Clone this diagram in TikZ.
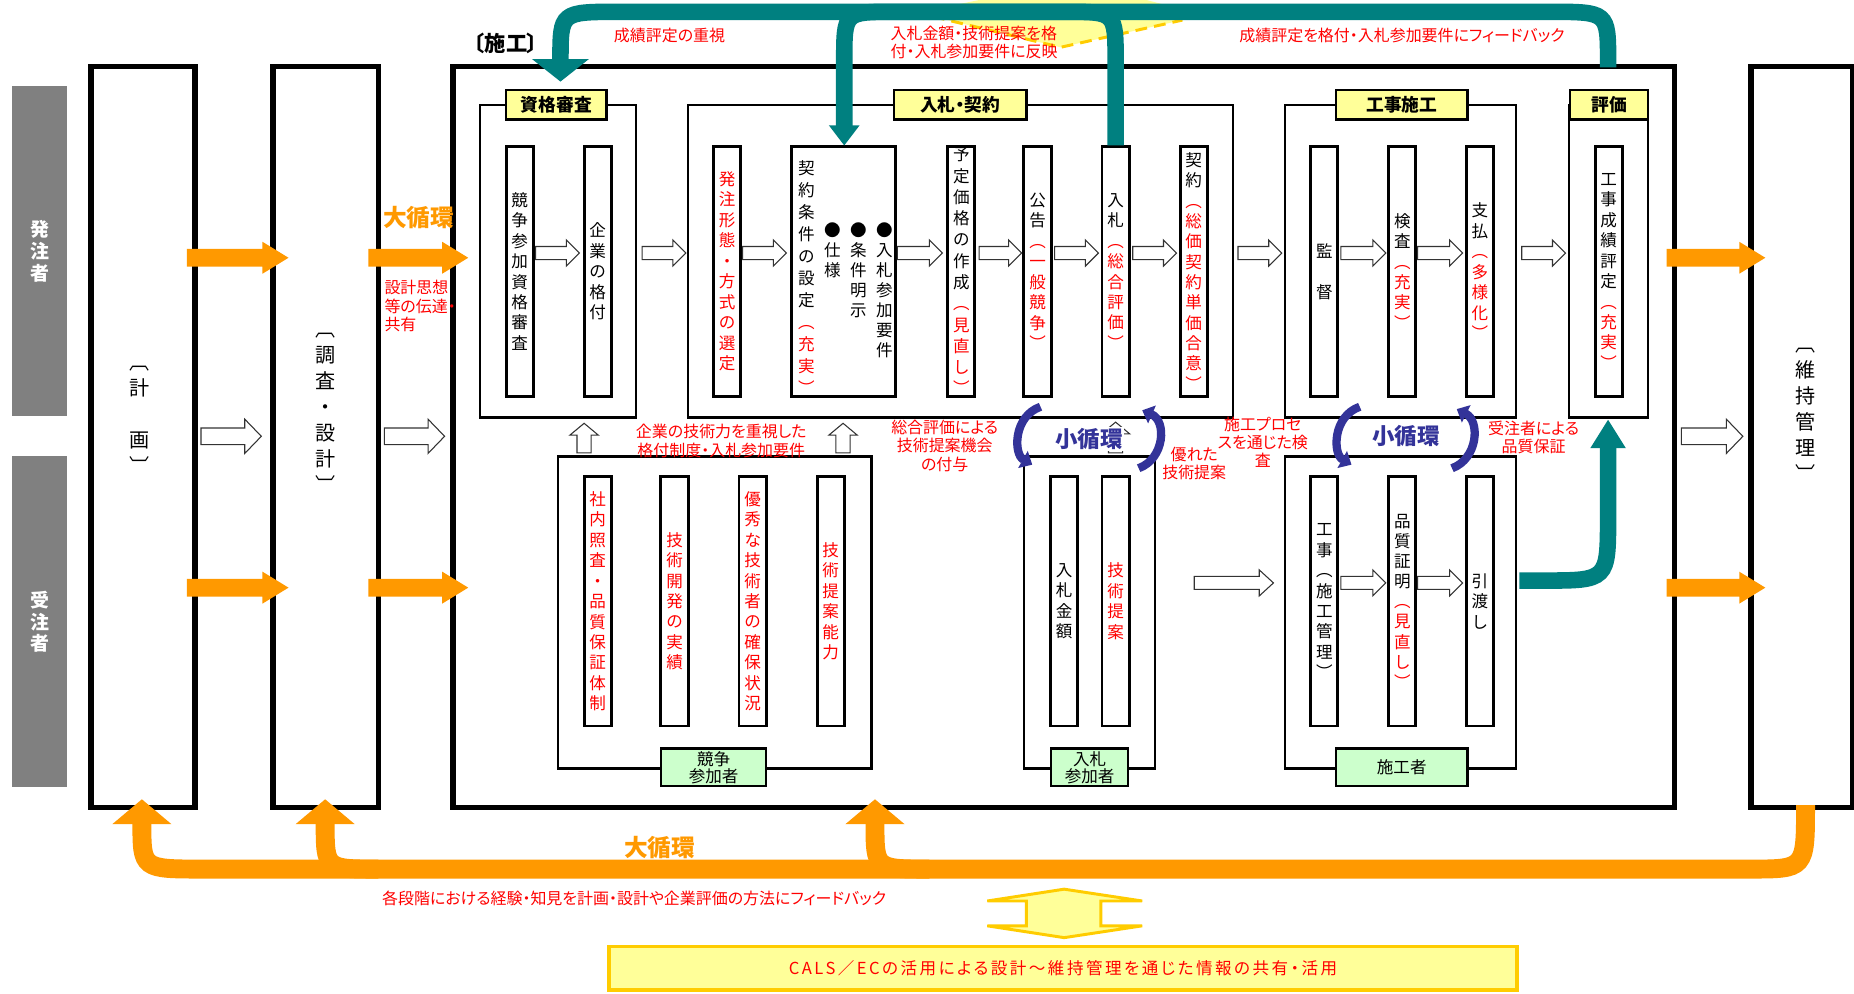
\documentclass[tikz,border=0pt]{standalone}
\usepackage{fontspec}
\setmainfont{Noto Sans CJK JP}[RawFeature=+palt]
\usetikzlibrary{arrows.meta}
\definecolor{orangeA}{HTML}{FF9900}
\definecolor{tealA}{HTML}{008080}
\definecolor{blueA}{HTML}{333399}
\definecolor{grayA}{HTML}{808080}
\definecolor{ylab}{HTML}{FFFF99}
\definecolor{glab}{HTML}{CCFFCC}
\definecolor{yedge}{HTML}{FFCC00}
\definecolor{redA}{HTML}{FF0000}
\makeatletter
\newcommand\vcol[3]{\vbox{\baselineskip=#1\lineskiplimit=-100pt\lineskip=0pt\relax
  \@tfor\vc@ch:=#2\do{\hbox to 1.15em{\hss\vc@ch\hss}}%
  \@tfor\vc@ch:=#3\do{\hbox to 1.15em{\hss\textcolor{redA}{\vc@ch}\hss}}}}
\makeatother
\newcommand\orR[3]{\fill[orangeA] (#1,#3-7.5) -- (#2-22,#3-7.5) -- (#2-22,#3-13.5) -- (#2,#3) -- (#2-22,#3+13.5) -- (#2-22,#3+7.5) -- (#1,#3+7.5) -- cycle;}
\newcommand\hoR[6]{\filldraw[hollow] (#1,#3-#4) -- (#2-#6,#3-#4) -- (#2-#6,#3-#5) -- (#2,#3) -- (#2-#6,#3+#5) -- (#2-#6,#3+#4) -- (#1,#3+#4) -- cycle;}
\newcommand\hoU[6]{\filldraw[hollow] (#1-#4,#2) -- (#1-#4,#3+#6) -- (#1-#5,#3+#6) -- (#1,#3) -- (#1+#5,#3+#6) -- (#1+#4,#3+#6) -- (#1+#4,#2) -- cycle;}
\begin{document}
\begin{tikzpicture}[x=1pt,y=-1pt,
  bigbox/.style={draw, line width=4.5pt, fill=white, inner sep=0pt},
  grp/.style={draw, line width=2pt, inner sep=0pt},
  colbox/.style={draw, line width=2.5pt, fill=white, inner sep=0pt, minimum width=23pt, minimum height=211pt, font=\fontsize{14}{17}\selectfont},
  vtxt/.style={inner sep=0pt, font=\fontsize{14}{17}\selectfont},
  ylabel/.style={draw, line width=2pt, fill=ylab, inner sep=0pt, minimum height=25pt, font=\bfseries\fontsize{15}{17}\selectfont},
  glabel/.style={draw, line width=2pt, fill=glab, inner sep=0pt, minimum height=32pt, align=center, font=\fontsize{14}{14.5}\selectfont},
  graybar/.style={fill=grayA, inner sep=0pt, minimum width=47pt, text=white, font=\bfseries\fontsize{16}{18}\selectfont},
  outtxt/.style={inner sep=0pt, font=\fontsize{17}{22}\selectfont},
  note/.style={text=redA, inner sep=0pt, font=\fontsize{13.5}{15.5}\selectfont},
  bigloop/.style={text=orangeA, inner sep=0pt, font=\bfseries\fontsize{20}{22}\selectfont},
  smallloop/.style={text=blueA, fill=white, inner sep=1pt, font=\bfseries\fontsize{19}{21}\selectfont},
  hollow/.style={fill=white, draw=black!80, line width=0.9pt},
  tealarrow/.style={draw=tealA, line width=14pt},
  orangeloop/.style={draw=orangeA, line width=16pt},
  bluearc/.style={draw=blueA, line width=7pt, -{Triangle[length=9pt,width=16pt]}},
]
\useasboundingbox (0,0) rectangle (1568,840);
\fill[white] (0,0) rectangle (1568,840);

% yellow shape at top
\fill[ylab] (838,-2) -- (789,8) -- (789,14) -- (897,40) -- (1000,17) -- (1000,8) -- (962,-2) -- cycle;
\draw[yedge, line width=2.5pt, dash pattern=on 10pt off 6pt] (789,14) -- (897,40) -- (1000,17);

% gray bars
\node[graybar, minimum height=279pt] (gb1) at (33.5,212.5) {\vcol{18.4pt}{発注者}{}};
\node[graybar, minimum height=280pt] (gb2) at (33.5,526) {\vcol{18.4pt}{受注者}{}};

% big boxes
\node[bigbox, minimum width=88pt, minimum height=627pt] (bP) at (121,369.5) {};
\node[bigbox, minimum width=89pt, minimum height=627pt] (bS) at (275.5,369.5) {};
\node[bigbox, minimum width=1033pt, minimum height=627pt] (bK) at (899.5,369.5) {};
\node[bigbox, minimum width=86pt, minimum height=627pt] (bM) at (1524,369.5) {};
\node[outtxt] (tP) at (118,355) {\vcol{22pt}{︹計{\null}画︺}{}};
\node[outtxt] (tS) at (275.5,349) {\vcol{22pt}{︹調査・設計︺}{}};
\node[outtxt] (tM) at (1527,351) {\vcol{22pt}{︹維持管理︺}{}};
\node[inner sep=0pt, font=\bfseries\fontsize{18}{20}\selectfont] (tK) at (428,37) {〔施工〕};

% groups
\node[grp, minimum width=132pt, minimum height=264pt] (gA) at (472,221) {};
\node[grp, minimum width=461pt, minimum height=264pt] (gB) at (812.5,221) {};
\node[grp, minimum width=195pt, minimum height=264pt] (gC) at (1184.5,221) {};
\node[grp, minimum width=67pt, minimum height=264pt] (gD) at (1360.5,221) {};
\node[grp, minimum width=265pt, minimum height=264pt] (gE) at (604.5,518) {};
\node[grp, minimum width=111pt, minimum height=264pt] (gF) at (921.5,518) {};
\node[grp, minimum width=195pt, minimum height=264pt] (gG) at (1184.5,518) {};

% labels
\node[ylabel, minimum width=85pt] (lA) at (470.5,88.5) {資格審査};
\node[ylabel, minimum width=112pt] (lB) at (812,88.5) {入札・契約};
\node[ylabel, minimum width=111pt] (lC) at (1185.5,88.5) {工事施工};
\node[ylabel, minimum width=66pt] (lD) at (1361,88.5) {評価};
\node[glabel, minimum width=89pt] (lE) at (603.5,649) {競争\\参加者};
\node[glabel, minimum width=65pt] (lF) at (921.5,649) {入札\\参加者};
\node[glabel, minimum width=111pt] (lG) at (1185.5,649) {施工者};

% upper columns
\node[colbox] (cA1) at (439.5,229.5) {\vcol{17.3pt}{競争参加資格審査}{}};
\node[colbox] (cA2) at (505.5,229.5) {\vcol{17.3pt}{企業の格付}{}};
\node[colbox] (cB1) at (615,229.5) {\vcol{17.3pt}{}{発注形態・方式の選定}};
\node[colbox, minimum width=88pt] (cB2) at (713,229.5) {};
\node[vtxt, anchor=north] (tB2a) at (682,136) {\vcol{18.6pt}{契約条件の設定}{︵充実︶}};
\node[vtxt, anchor=north] (tB2b) at (704,188) {\vcol{17pt}{●仕様}{}};
\node[vtxt, anchor=north] (tB2c) at (726,188) {\vcol{17pt}{●条件明示}{}};
\node[vtxt, anchor=north] (tB2d) at (748,188) {\vcol{17pt}{●入札参加要件}{}};
\node[colbox] (cB3) at (813,229.5) {\vcol{18pt}{予定価格の作成}{︵見直し︶}};
\node[colbox] (cB4) at (877.5,229.5) {\vcol{17.3pt}{公告}{︵一般競争︶}};
\node[colbox] (cB5) at (943.5,229.5) {\vcol{17.3pt}{入札}{︵総合評価︶}};
\node[colbox] (cB6) at (1009.5,229.5) {\vcol{17.2pt}{契約}{︵総価契約単価合意︶}};
\node[colbox] (cC1) at (1120,229.5) {\vcol{17.3pt}{監{\null}督}{}};
\node[colbox] (cC2) at (1186,229.5) {\vcol{17.3pt}{検査}{︵充実︶}};
\node[colbox] (cC3) at (1251.5,229.5) {\vcol{17.3pt}{支払}{︵多様化︶}};
\node[colbox] (cD1) at (1360.5,229.5) {\vcol{17.3pt}{工事成績評定}{︵充実︶}};

% lower columns
\node[colbox] (cE1) at (505.5,508.5) {\vcol{17.3pt}{}{社内照査・品質保証体制}};
\node[colbox] (cE2) at (570.5,508.5) {\vcol{17.3pt}{}{技術開発の実績}};
\node[colbox] (cE3) at (636.5,508.5) {\vcol{17.3pt}{}{優秀な技術者の確保状況}};
\node[colbox] (cE4) at (702.5,508.5) {\vcol{17.3pt}{}{技術提案能力}};
\node[colbox] (cF1) at (900,508.5) {\vcol{17.3pt}{入札金額}{}};
\node[colbox] (cF2) at (943.5,508.5) {\vcol{17.3pt}{}{技術提案}};
\node[colbox] (cG1) at (1120,508.5) {\vcol{17.3pt}{工事︵施工管理︶}{}};
\node[colbox] (cG2) at (1186,508.5) {\vcol{17pt}{品質証明}{︵見直し︶}};
\node[colbox] (cG3) at (1251.5,508.5) {\vcol{17.3pt}{引渡し}{}};

% hollow arrows
\hoR{170}{221}{369}{7}{14.5}{14}
\hoR{325}{376}{369}{7}{14.5}{14}
\hoR{1422}{1474}{369}{7}{14.5}{14}
\hoR{453}{490}{214}{5.5}{11}{11}
\hoR{543}{580}{214}{5.5}{11}{11}
\hoR{628}{665}{214}{5.5}{11}{11}
\hoR{759}{797}{214}{5.5}{11}{11}
\hoR{828}{864}{214}{5.5}{11}{11}
\hoR{892}{929}{214}{5.5}{11}{11}
\hoR{958}{995}{214}{5.5}{11}{11}
\hoR{1047}{1084}{214}{5.5}{11}{11}
\hoR{1134}{1172}{214}{5.5}{11}{11}
\hoR{1199}{1237}{214}{5.5}{11}{11}
\hoR{1287}{1324}{214}{5.5}{11}{11}
\hoR{1010}{1077}{493}{5.5}{11}{12}
\hoR{1134}{1172}{493}{5.5}{11}{11}
\hoR{1199}{1237}{493}{5.5}{11}{11}
\hoU{494}{383}{358}{6}{12}{10}
\hoU{713}{383}{358}{6}{12}{10}
\hoU{943.5}{383}{357}{6}{12}{10}

% orange block arrows
\orR{158}{244}{218} \orR{311.5}{396}{218} \orR{1409.5}{1493}{218}
\orR{158}{244}{497} \orR{311.5}{396}{497} \orR{1409.5}{1493}{497}

% teal arrows
\draw[tealarrow] (1360,57) -- (1360,52) .. controls (1360,10) .. (1310,10) -- (524,10) .. controls (474,10) .. (474,51);
\fill[tealA] (450,50) -- (498,50) -- (474,69) -- cycle;
\draw[tealarrow] (943.5,123) -- (943.5,52) .. controls (943.5,10) .. (901,10) -- (756,10) .. controls (714,10) .. (714,52) -- (714,107);
\fill[tealA] (701,106) -- (727,106) -- (714,123) -- cycle;
\draw[tealarrow] (1285,491) -- (1305,491) .. controls (1360,491) .. (1360,436) -- (1360,378);
\fill[tealA] (1345,379) -- (1375,379) -- (1360,355) -- cycle;

% orange big loop
\draw[orangeloop] (1527,681) .. controls (1527,735) .. (1480,735) -- (172,735) .. controls (120,735) .. (120,696);
\fill[orangeA] (95,697) -- (145,697) -- (120,676) -- cycle;
\draw[orangeloop] (320,735) .. controls (275,735) .. (275,696);
\fill[orangeA] (250,697) -- (300,697) -- (275,676) -- cycle;
\draw[orangeloop] (786,735) .. controls (740,735) .. (740,696);
\fill[orangeA] (715,697) -- (765,697) -- (740,676) -- cycle;

% small loops
\node[smallloop] (s1) at (921,371) {小循環};
\draw[bluearc] (880,344) .. controls (857,352) and (857,384) .. (873,393);
\draw[bluearc] (963,396) .. controls (985,388) and (987,356) .. (966,347);
\node[smallloop] (s2) at (1189,369) {小循環};
\draw[bluearc] (1150,344) .. controls (1127,352) and (1127,384) .. (1143,393);
\draw[bluearc] (1228,396) .. controls (1250,388) and (1252,356) .. (1232,346);

% annotations
\node[bigloop] (L1) at (354,184) {大循環};
\node[bigloop] (L2) at (558,717) {大循環};
\node[note, anchor=north west, align=left] (n0) at (325,237) {設計思想\\等の伝達・\\共有};
\node[note, anchor=west] (n1) at (519,30) {成績評定の重視};
\node[note, anchor=north west, align=left] (n2) at (753,22) {入札金額・技術提案を格\\付・入札参加要件に反映};
\node[note, anchor=west] (n3) at (1048,30) {成績評定を格付・入札参加要件にフィードバック};
\node[note, align=center] (n4) at (610,373) {企業の技術力を重視した\\格付制度・入札参加要件};
\node[note, align=center] (n5) at (799,377) {総合評価による\\技術提案機会\\の付与};
\node[note, align=center] (n6) at (1010,392) {優れた\\技術提案};
\node[note, align=center] (n7) at (1068,374) {施工プロセ\\スを通じた検\\査};
\node[note, align=center] (n8) at (1297,370) {受注者による\\品質保証};
\node[note, anchor=west] (n9) at (323,760) {各段階における経験・知見を計画・設計や企業評価の方法にフィードバック};

% CALS
\filldraw[fill=ylab, draw=yedge, line width=2.5pt] (900,752) -- (966,762) -- (931,762) -- (931,783) -- (966,783) -- (900,793) -- (835,783) -- (868,783) -- (868,762) -- (835,762) -- cycle;
\node[draw=yedge, line width=3pt, fill=ylab, minimum width=768pt, minimum height=37pt, inner sep=0pt, text=redA, font=\fontsize{14}{16}\selectfont\addfontfeatures{LetterSpace=15}] (cals) at (899,819) {CALS／ECの活用による設計～維持管理を通じた情報の共有・活用};
\end{tikzpicture}
\end{document}
